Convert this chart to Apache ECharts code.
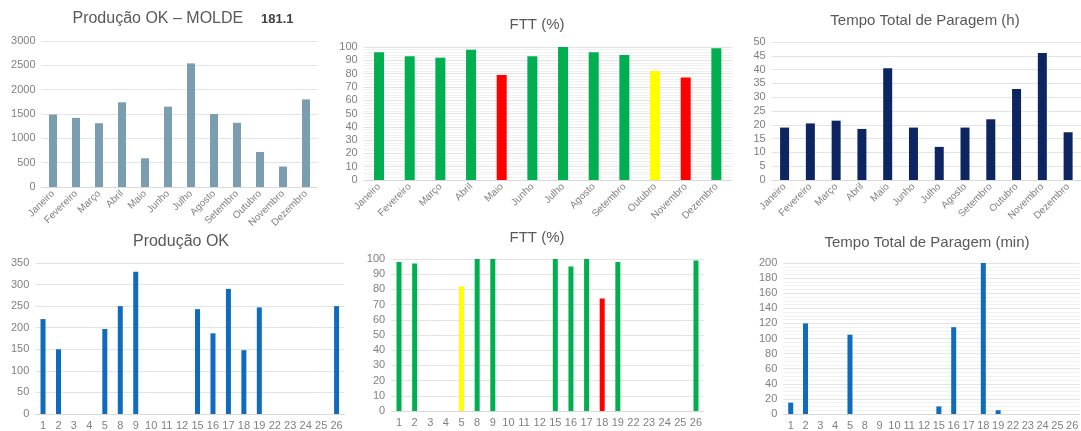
<!DOCTYPE html>
<html>
<head>
<meta charset="utf-8">
<script src="https://cdn.jsdelivr.net/npm/echarts@6/dist/echarts.min.js"></script>
<style>
html,body{margin:0;padding:0;background:#fff;}
#c{width:1081px;height:431px;}
</style>
</head>
<body>
<div id="c"></div>
<script>
const months = ['Janeiro','Fevereiro','Março','Abril','Maio','Junho','Julho','Agosto','Setembro','Outubro','Novembro','Dezembro'];
const prodMonthly = [1490, 1420, 1310, 1740, 590, 1650, 2540, 1500, 1320, 720, 420, 1800];
const fttMonthly = [96, 93, 92, 98, 79, 93, 100, 96, 94, 82, 77, 99];
const stopHours = [19, 20.5, 21.5, 18.5, 40.5, 19, 12, 19, 22, 33, 46, 17.3];

const days = ['1','2','3','4','5','8','9','10','11','12','15','16','17','18','19','22','23','24','25','26'];
const prodDaily = [220, 150, null, null, 197, 250, 330, null, null, null, 243, 187, 290, 148, 247, null, null, null, null, 250];
const fttDaily = [98, 97, null, null, 82, 100, 100, null, null, null, 100, 95, 100, 74, 98, null, null, null, null, 99];
const stopMinDaily = [15, 120, null, null, 105, null, null, null, null, null, 10, 115, null, 200, 5, null, null, null, null, null];

const titleMain = 'Produção OK – MOLDE';
const titleMainCode = '181.1';

const FONT = '"Liberation Sans", Arial, sans-serif';
const axisGray = '#808080';
const titleGray = '#595959';
const gridColor = '#e3e3e3';

function fttColor(p){
  const v = p.value;
  if (v < 80) return '#ff0000';
  if (v < 90) return '#ffff00';
  return '#00b050';
}

const grids = [
  {left: 41.5, top: 41, width: 276, height: 146},
  {left: 363.7, top: 47, width: 368, height: 133},
  {left: 771.7, top: 42, width: 320, height: 138},
  {left: 35.3, top: 263, width: 309, height: 151},
  {left: 391.2, top: 259, width: 312.6, height: 152},
  {left: 783.3, top: 263, width: 310, height: 156}
];

function xAx(i, cats, rotate){
  return {
    type: 'category', gridIndex: i, data: cats,
    axisTick: {show: false},
    axisLine: {lineStyle: {color: '#d9d9d9'}},
    axisLabel: {
      color: axisGray, fontFamily: FONT,
      fontSize: rotate ? 10 : 11, rotate: rotate ? 45 : 0,
      margin: rotate ? 5 : 6, interval: 0
    }
  };
}
function yAx(i, max, interval, minor){
  const o = {
    type: 'value', gridIndex: i, min: 0, max: max, interval: interval,
    axisLine: {show: false}, axisTick: {show: false},
    axisLabel: {color: axisGray, fontFamily: FONT, fontSize: 11, margin: 6, formatter: function(v){ return String(v); }},
    splitLine: {lineStyle: {color: gridColor, width: 1}}
  };
  if (minor) {
    o.minorTick = {show: false, splitNumber: minor};
    o.minorSplitLine = {show: true, lineStyle: {color: '#f1f1f1', width: 1}};
  }
  return o;
}

function ttl(text, cx, cy, size){
  return {
    text: text, left: cx, top: cy - size/2 - 1, textAlign: 'center', padding: 0,
    textStyle: {color: titleGray, fontFamily: FONT, fontSize: size, fontWeight: 'normal'}
  };
}

const option = {
  animation: false,
  backgroundColor: '#ffffff',
  title: [
    {
      text: '{a|' + titleMain + '}    {b|' + titleMainCode + '}',
      left: 183, top: 11, textAlign: 'center', padding: 0,
      textStyle: {
        fontWeight: 'normal', fontFamily: FONT, fontSize: 16, color: titleGray,
        rich: {
          a: {color: titleGray, fontFamily: FONT, fontSize: 16, fontWeight: 'normal'},
          b: {color: '#404040', fontFamily: FONT, fontSize: 13, fontWeight: 'bold'}
        }
      }
    },
    ttl('FTT (%)', 537, 26, 15),
    ttl('Tempo Total de Paragem (h)', 925, 22, 15),
    ttl('Produção OK', 181, 243, 16),
    ttl('FTT (%)', 537, 239, 15),
    ttl('Tempo Total de Paragem (min)', 927, 244, 15)
  ],
  grid: grids,
  xAxis: [
    xAx(0, months, true), xAx(1, months, true), xAx(2, months, true),
    xAx(3, days, false), xAx(4, days, false), xAx(5, days, false)
  ],
  yAxis: [
    yAx(0, 3000, 500),
    yAx(1, 100, 10, 5),
    yAx(2, 50, 5),
    yAx(3, 350, 50),
    yAx(4, 100, 10),
    yAx(5, 200, 20, 4)
  ],
  series: [
    {type: 'bar', xAxisIndex: 0, yAxisIndex: 0, data: prodMonthly, barWidth: 8, itemStyle: {color: '#7b9db0'}},
    {type: 'bar', xAxisIndex: 1, yAxisIndex: 1, data: fttMonthly, barWidth: 10, itemStyle: {color: fttColor}},
    {type: 'bar', xAxisIndex: 2, yAxisIndex: 2, data: stopHours, barWidth: 9, itemStyle: {color: '#0d2560'}},
    {type: 'bar', xAxisIndex: 3, yAxisIndex: 3, data: prodDaily, barWidth: 5, itemStyle: {color: '#0f6cbd'}},
    {type: 'bar', xAxisIndex: 4, yAxisIndex: 4, data: fttDaily, barWidth: 5, itemStyle: {color: fttColor}},
    {type: 'bar', xAxisIndex: 5, yAxisIndex: 5, data: stopMinDaily, barWidth: 5, itemStyle: {color: '#0f6cbd'}}
  ]
};

const chart = echarts.init(document.getElementById('c'), null, {renderer: 'canvas'});
chart.setOption(option);
</script>
</body>
</html>
